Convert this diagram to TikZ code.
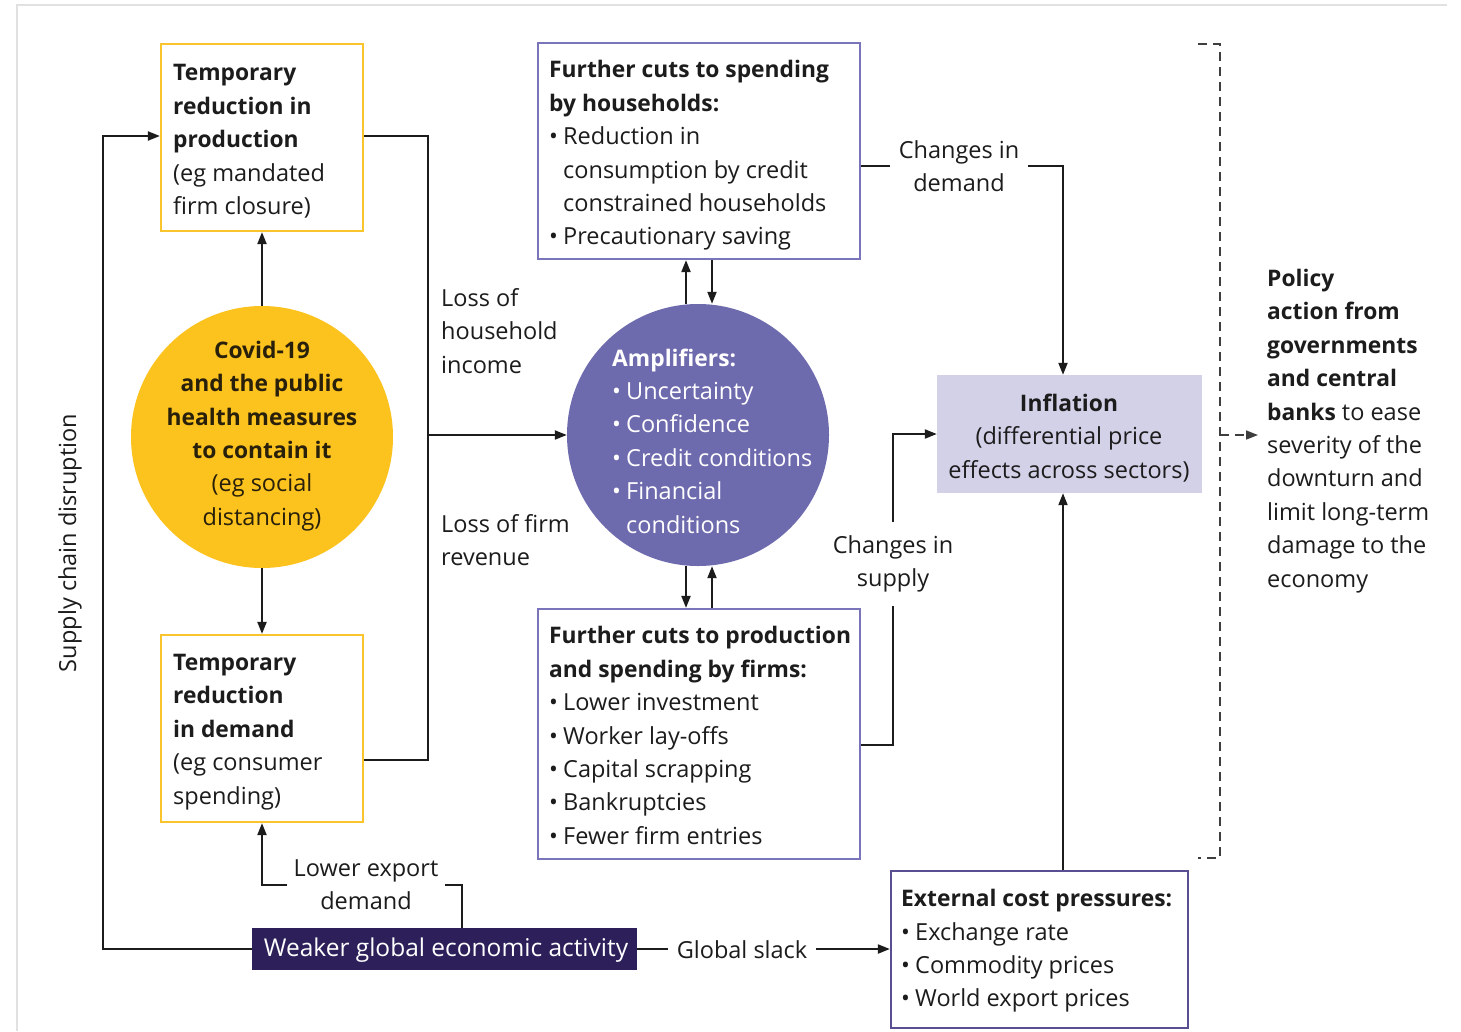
\documentclass[tikz,border=0pt]{standalone}
\usepackage{fontspec}
\setmainfont{Open Sans}
\usetikzlibrary{arrows.meta,calc}
\definecolor{ink}{RGB}{28,28,28}
\definecolor{yel}{RGB}{250,196,45}
\definecolor{covid}{RGB}{252,194,30}
\definecolor{covidink}{RGB}{40,32,10}
\definecolor{amp}{RGB}{110,106,174}
\definecolor{lav}{RGB}{122,116,186}
\definecolor{infl}{RGB}{211,209,232}
\definecolor{extb}{RGB}{88,78,145}
\definecolor{navy}{RGB}{45,32,90}
\definecolor{framegrey}{RGB}{225,225,225}
\newcommand{\bul}{\makebox[14pt][l]{•}}
\newcommand{\ind}{\hspace*{14pt}}
\newcommand{\B}[1]{{\fontsize{22.8}{33.4}\selectfont\bfseries #1}}
\begin{document}
\begin{tikzpicture}[x=1pt,y=1pt,
  txt/.style={font=\fontsize{23.5}{33.4}\selectfont, text=ink},
  ltxt/.style={txt, anchor=west, align=left, inner sep=0pt},
  ybox/.style={draw=yel, line width=2.2pt, minimum width=202pt, minimum height=187pt, inner sep=0pt},
  pbox/.style={draw=lav, line width=2.2pt, inner sep=0pt},
  lbl/.style={txt, inner ysep=0pt, align=center},
  wire/.style={line width=2pt, draw=ink},
  arr/.style={wire, -{Triangle[length=12pt,width=9pt]}},
  dsh/.style={line width=1.6pt, draw=ink!85, dash pattern=on 9pt off 6pt}
]
\useasboundingbox (0,0) rectangle (1461,-1031);
\fill[white] (0,0) rectangle (1461,-1031);
\draw[framegrey, line width=2pt] (17,-1031) -- (17,-5) -- (1447,-5);

% boxes
\node[ybox] (A) at (262,-137.5) {};
\node[ltxt] (Atxt) at (173,-141.5) {\B{Temporary}\\\B{reduction in}\\\B{production}\\(eg mandated\\firm closure)};
\node[ybox] (B) at (262,-728.5) {};
\node[ltxt] (Btxt) at (173,-732) {\B{Temporary}\\\B{reduction}\\\B{in demand}\\(eg consumer\\spending)};

\node[circle, fill=covid, minimum size=262pt, inner sep=0pt] (covid) at (262,-437) {};
\node[txt, text=covidink, align=center, inner sep=0pt] (covidtxt) at (262,-436) {\B{Covid-19}\\\B{and the public}\\\B{health measures}\\\B{to contain it}\\(eg social\\distancing)};

\node[circle, fill=amp, minimum size=262pt, inner sep=0pt] (amp) at (698,-435) {};
\node[ltxt, text=white] (amptxt) at (612,-441) {\B{Amplifiers:}\\\bul Uncertainty\\\bul Confidence\\\bul Credit conditions\\\bul Financial\\\ind conditions};

\node[pbox, minimum width=322pt, minimum height=216pt] (C) at (699,-151) {};
\node[ltxt] (Ctxt) at (549,-155.5) {\B{Further cuts to spending}\\\B{by households:}\\\bul Reduction in\\\ind consumption by credit\\\ind constrained households\\\bul Precautionary saving};
\node[pbox, minimum width=322pt, minimum height=250pt] (D) at (699,-734) {};
\node[ltxt] (Dtxt) at (549,-735.5) {\B{Further cuts to production}\\\B{and spending by firms:}\\\bul Lower investment\\\bul Worker lay-offs\\\bul Capital scrapping\\\bul Bankruptcies\\\bul Fewer firm entries};

\node[fill=infl, minimum width=265pt, minimum height=118pt, inner sep=0pt] (infl) at (1069.5,-434) {};
\node[txt, align=center, inner sep=0pt] (infltxt) at (1069,-438) {\B{Inflation}\\(differential price\\effects across sectors)};

\node[pbox, draw=extb, minimum width=297pt, minimum height=157pt] (ext) at (1039.5,-949.5) {};
\node[ltxt] (exttxt) at (901,-951) {\B{External cost pressures:}\\\bul Exchange rate\\\bul Commodity prices\\\bul World export prices};

\node[fill=navy, minimum width=385pt, minimum height=42pt, inner sep=0pt] (weak) at (444.5,-949) {};
\node[txt, text=white, font=\fontsize{24.5}{30}\selectfont, inner sep=0pt] (weaktxt) at (446,-950) {Weaker global economic activity};

% labels
\node[ltxt] (lhi) at (441,-331) {Loss of\\household\\income};
\node[ltxt] (lfr) at (441,-540) {Loss of firm\\revenue};
\node[lbl, minimum width=138pt, inner xsep=0pt] (cd) at (959,-166) {Changes in\\demand};
\node[lbl, minimum height=83pt, inner xsep=0pt] (cs) at (893,-564) {Changes in\\supply};
\node[lbl, minimum width=157pt, inner xsep=0pt] (led) at (366,-884.5) {Lower export\\demand};
\node[lbl, minimum width=148pt, inner xsep=0pt] (gs) at (742,-950) {Global slack};
\node[txt, rotate=90, inner sep=0pt] (scd) at (70,-543) {Supply chain disruption};
\node[ltxt] (pol) at (1267,-431) {\B{Policy}\\\B{action from}\\\B{governments}\\\B{and central}\\\B{banks} to ease\\severity of the\\downturn and\\limit long-term\\damage to the\\economy};

% coordinates
\coordinate (j) at (428,-435);
\coordinate (scx) at (103,-949);
\coordinate (brtop) at (1198,-44);
\coordinate (brbot) at (1198,-858);
\coordinate (brmid) at (1220,-435);
\coordinate (polin) at (1258,-435);

% connectors
\draw[arr] (covid.north) -- (A.south);
\draw[arr] (covid.south) -- (B.north);
\draw[wire] ([yshift=1.5pt]A.east) -| (j);
\draw[wire] ([yshift=-31.5pt]B.east) -| (j);
\draw[arr] (j) -- (amp.west);
\draw[arr] ([xshift=-12pt]amp.north) -- ([xshift=-13pt]C.south);
\draw[arr] ([xshift=13pt]C.south) -- ([xshift=14pt]amp.north);
\draw[arr] ([xshift=-12pt]amp.south) -- ([xshift=-13pt]D.north);
\draw[arr] ([xshift=13pt]D.north) -- ([xshift=14pt]amp.south);
\draw[wire] (C.east |- cd.west) -- (cd.west);
\draw[arr] (cd.east) -| ([xshift=-6.5pt]infl.north);
\draw[wire] ([yshift=-11pt]D.east) -| (cs.south);
\draw[arr] (cs.north) |- (infl.west);
\draw[arr] ([xshift=23.5pt]ext.north) -- ([xshift=-6.5pt]infl.south);
\draw[arr] (weak.west) -- (scx) |- ([yshift=1.5pt]A.west);
\draw[wire] ([xshift=17.5pt]weak.north) |- (led.east);
\draw[arr] (led.west) -| (B.south);
\draw[wire] (weak.east) -- (weak.east -| gs.west);
\draw[arr] (weak.east -| gs.east) -- (weak.east -| ext.west);
\draw[dsh] (brtop) -- (brtop -| brmid) -- (brbot -| brmid) -- (brbot);
\draw[dsh, -{Triangle[length=12pt,width=9pt]}] (brmid) -- (polin);
\end{tikzpicture}
\end{document}
